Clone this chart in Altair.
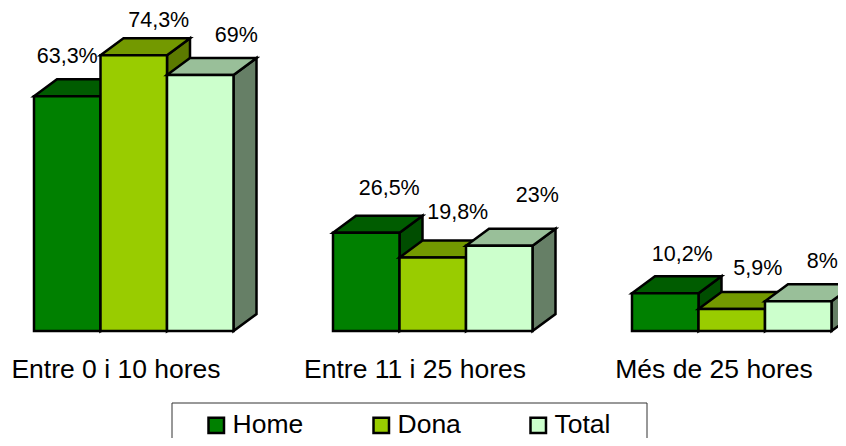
import altair as alt
import pandas as pd

categories = ["Entre 0 i 10 hores", "Entre 11 i 25 hores", "Més de 25 hores"]
series = ["Home", "Dona", "Total"]
home = [63.3, 26.5, 10.2]
dona = [74.3, 19.8, 5.9]
total = [69.0, 23.0, 8.0]
labels_home = ["63,3%", "26,5%", "10,2%"]
labels_dona = ["74,3%", "19,8%", "5,9%"]
labels_total = ["69%", "23%", "8%"]

front_colors = ["#008000", "#99CC00", "#CCFFCC"]
top_colors = ["#005C00", "#739900", "#99BF99"]
side_colors = ["#004D00", "#5C7A00", "#667F66"]

# layout (view px horizontally; percent units vertically)
W, H = 830, 430
PX_PER_UNIT = 3.71
ZERO_PX = 323
G0, PITCH, BAR = 26, 299, 66.5
DX = 23
DY = 17 / PX_PER_UNIT
EDGE = 2.5
label_dx = [[0, 23, 17], [25, 25, 26], [36, 38, 24]]
label_dy = [[39, 44, 38], [34, 45, 40], [39, 50, 39]]

xs = alt.Scale(domain=[0, W], range=[0, W], nice=False, zero=False)
ys = alt.Scale(domain=[(ZERO_PX - H) / PX_PER_UNIT, ZERO_PX / PX_PER_UNIT], range=[H, 0], nice=False, zero=False)
X = lambda f: alt.X(f"{f}:Q", scale=xs, axis=None)
Y = lambda f: alt.Y(f"{f}:Q", scale=ys, axis=None)
color = alt.Color(
    "serie:N",
    scale=alt.Scale(domain=series, range=front_colors),
    legend=alt.Legend(
        orient="none", legendX=195, legendY=404, direction="horizontal", columns=3,
        title=None, symbolType="square", symbolSize=240, symbolStrokeColor="black",
        symbolStrokeWidth=EDGE, symbolOpacity=1, labelFont="Liberation Sans", labelFontSize=26.5,
        labelColor="black", labelOffset=3, columnPadding=64, padding=0,
    ),
)

layers = []
values = [home, dona, total]
texts = [labels_home, labels_dona, labels_total]
label_rows = []
for s, name in enumerate(series):
    for g in range(3):
        v = values[s][g]
        x0 = G0 + PITCH * g + BAR * s
        x1 = x0 + BAR
        top = pd.DataFrame({
            "x": [x0, x0 + DX, x1, x1 + DX],
            "y": [v, v + DY, v + DY, v + DY],
            "y2": [v, v, v, v + DY],
        })
        side = pd.DataFrame({"x": [x1, x1 + DX], "y": [v, v + DY], "y2": [0, DY]})
        front = pd.DataFrame({"x": [x0], "x2": [x1], "y": [v], "y2": [0], "serie": [name]})
        layers.append(alt.Chart(side).mark_area(color=side_colors[s], stroke="black", strokeWidth=EDGE, clip=True, opacity=1)
                      .encode(x=X("x"), y=Y("y"), y2="y2:Q"))
        layers.append(alt.Chart(top).mark_area(color=top_colors[s], stroke="black", strokeWidth=EDGE, clip=True, opacity=1)
                      .encode(x=X("x"), y=Y("y"), y2="y2:Q"))
        layers.append(alt.Chart(front).mark_rect(stroke="black", strokeWidth=EDGE, clip=True, opacity=1)
                      .encode(x=X("x"), x2="x2:Q", y=Y("y"), y2="y2:Q", color=color))
        label_rows.append({
            "x": x0 + BAR / 2 + label_dx[s][g],
            "y": v + label_dy[s][g] / PX_PER_UNIT,
            "t": texts[s][g],
        })

pct = alt.Chart(pd.DataFrame(label_rows)).mark_text(
    font="Liberation Sans", fontSize=21.5, color="black", align="center", baseline="middle"
).encode(x=X("x"), y=Y("y"), text="t:N")

cat_df = pd.DataFrame({"c": categories, "x": [G0 + PITCH * i + 82 for i in range(3)]})
cats = alt.Chart(cat_df).mark_text(
    font="Liberation Sans", fontSize=26.5, color="black", align="center", baseline="middle"
).encode(x=X("x"), y=alt.value(362), text="c:N")

frame = alt.Chart(pd.DataFrame({"a": [0]})).mark_rect(
    fill="white", stroke="#333333", strokeWidth=1, clip=True
).encode(x=alt.value(164), x2=alt.value(639), y=alt.value(395), y2=alt.value(470))

chart = alt.layer(frame, *layers, pct, cats).properties(
    width=W, height=H, padding=0, autosize=alt.AutoSizeParams(type="none")
).configure_view(stroke=None).resolve_scale(color="shared")

chart.save("out.html", embed_options={"renderer": "svg", "actions": False})
